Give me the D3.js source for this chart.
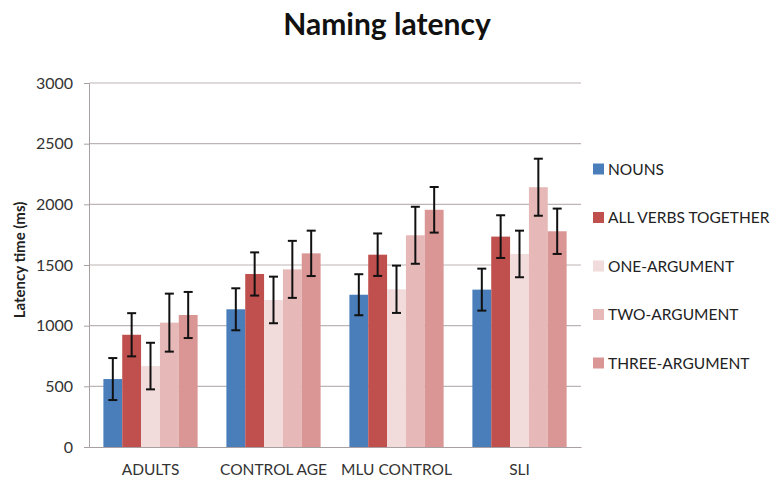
<!DOCTYPE html>
<html>
<head>
<meta charset="utf-8">
<script src="https://cdn.jsdelivr.net/npm/d3@7"></script>
<style>
  body { margin: 0; background: #fff; }
  svg { font-family: Lato, "Open Sans", sans-serif; }
</style>
</head>
<body>
<svg id="chart" width="775" height="485"></svg>
<script>
// Data
const groups = ["ADULTS", "CONTROL AGE", "MLU CONTROL", "SLI"];
const seriesNames = ["NOUNS", "ALL VERBS TOGETHER", "ONE-ARGUMENT", "TWO-ARGUMENT", "THREE-ARGUMENT"];
const seriesColors = ["#4a7ebb", "#c0504d", "#f2dcdb", "#e6b9b8", "#d99694"];

const nouns       = [560, 1135, 1255, 1297];
const allVerbs    = [925, 1426, 1585, 1734];
const oneArg      = [667, 1212, 1300, 1591];
const twoArg      = [1025, 1464, 1745, 2141];
const threeArg    = [1088, 1596, 1955, 1778];

const nounsErr    = [173, 173, 169, 173];
const allVerbsErr = [178, 178, 175, 176];
const oneArgErr   = [192, 192, 195, 192];
const twoArgErr   = [239, 235, 235, 235];
const threeArgErr = [190, 187, 188, 187];

const yTicks = [0, 500, 1000, 1500, 2000, 2500, 3000];

const values = [nouns, allVerbs, oneArg, twoArg, threeArg];
const errors = [nounsErr, allVerbsErr, oneArgErr, twoArgErr, threeArgErr];

const rows = [];
groups.forEach((g, gi) => {
  seriesNames.forEach((s, si) => {
    rows.push({ group: g, series: s, si: si, value: values[si][gi], err: errors[si][gi] });
  });
});

const svg = d3.select("#chart");
const plotLeft = 89, plotRight = 581, plotTop = 83, plotBottom = 447;

const x0 = d3.scaleBand().domain(groups).range([plotLeft, plotRight]).padding(0);
const x1 = d3.scaleBand().domain(seriesNames)
  .range([x0.bandwidth() * 0.117, x0.bandwidth() * 0.883]).padding(0);
const y = d3.scaleLinear().domain([0, 3000]).range([plotBottom, plotTop]);

// Title
svg.append("text")
  .attr("x", 387).attr("y", 35)
  .attr("text-anchor", "middle")
  .style("font-size", "30px").style("font-weight", "bold")
  .style("fill", "#111")
  .text("Naming latency");

// Gridlines
svg.append("g")
  .selectAll("line")
  .data(yTicks.filter(d => d > 0))
  .join("line")
  .attr("x1", plotLeft).attr("x2", plotRight)
  .attr("y1", d => y(d)).attr("y2", d => y(d))
  .style("stroke", "#bdb5b5").style("stroke-width", 1.2);

// Y axis
const yAxis = svg.append("g")
  .attr("transform", `translate(${plotLeft},0)`)
  .call(d3.axisLeft(y).tickValues(yTicks).tickFormat(d3.format("d")).tickSize(5).tickPadding(11));
yAxis.select(".domain").style("stroke", "#a8a0a0");
yAxis.selectAll(".tick line").style("stroke", "#a8a0a0");
yAxis.selectAll("text").style("font-size", "16px").style("fill", "#333")
  .style("font-family", "Lato, sans-serif");

// Y axis label
svg.append("text")
  .attr("transform", `translate(25,${(plotTop + plotBottom) / 2 - 5}) rotate(-90)`)
  .attr("text-anchor", "middle")
  .style("font-size", "15px").style("font-weight", "bold").style("fill", "#222")
  .text("Latency time (ms)");

// Bars
svg.append("g")
  .selectAll("rect")
  .data(rows)
  .join("rect")
  .attr("x", d => x0(d.group) + x1(d.series))
  .attr("y", d => y(d.value))
  .attr("width", x1.bandwidth())
  .attr("height", d => y(0) - y(d.value))
  .style("fill", d => seriesColors[d.si]);

// Error bars
const eb = svg.append("g")
  .selectAll("g")
  .data(rows)
  .join("g")
  .attr("transform", d => `translate(${x0(d.group) + x1(d.series) + x1.bandwidth() / 2},0)`)
  .style("stroke", "#111").style("stroke-width", 2);
eb.append("line")
  .attr("y1", d => y(d.value + d.err)).attr("y2", d => y(d.value - d.err));
eb.append("line")
  .attr("x1", -4.5).attr("x2", 4.5)
  .attr("y1", d => y(d.value + d.err)).attr("y2", d => y(d.value + d.err));
eb.append("line")
  .attr("x1", -4.5).attr("x2", 4.5)
  .attr("y1", d => y(d.value - d.err)).attr("y2", d => y(d.value - d.err));

// X axis
const xAxis = svg.append("g")
  .attr("transform", `translate(0,${plotBottom})`)
  .call(d3.axisBottom(x0).tickSize(0).tickPadding(17));
xAxis.select(".domain").style("stroke", "#a8a0a0").style("stroke-width", 1.2);
xAxis.selectAll("text").style("font-size", "15.5px").style("fill", "#333")
  .style("font-family", "Lato, sans-serif");

// Legend
const legend = svg.append("g")
  .selectAll("g")
  .data(seriesNames)
  .join("g")
  .attr("transform", (d, i) => `translate(593,${169 + i * 48.5})`);
legend.append("rect")
  .attr("x", 0).attr("y", -5.5).attr("width", 11).attr("height", 11)
  .style("fill", (d, i) => seriesColors[i]);
legend.append("text")
  .attr("x", 15).attr("y", 0).attr("dy", "0.36em")
  .style("font-size", "15.5px").style("fill", "#222")
  .text(d => d);
</script>
</body>
</html>
